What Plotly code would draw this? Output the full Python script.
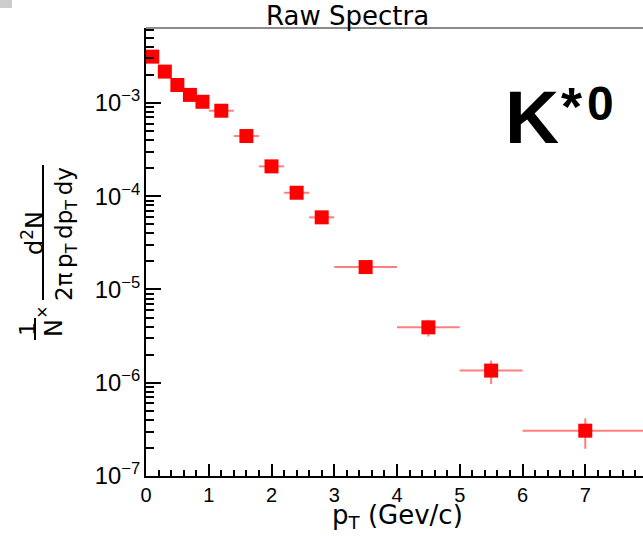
import plotly.graph_objects as go

# ---- data ----
pt = [0.1, 0.3, 0.5, 0.7, 0.9, 1.2, 1.6, 2.0, 2.4, 2.8, 3.5, 4.5, 5.5, 7.0]
pt_halfwidth = [0.1, 0.1, 0.1, 0.1, 0.1, 0.2, 0.2, 0.2, 0.2, 0.2, 0.5, 0.5, 0.5, 1.0]
yield_vals = [3.14e-3, 2.17e-3, 1.56e-3, 1.22e-3, 1.03e-3, 8.26e-4, 4.42e-4,
              2.09e-4, 1.09e-4, 5.94e-5, 1.74e-5, 3.93e-6, 1.35e-6, 3.06e-7]
yield_err = [5e-5, 4e-5, 3e-5, 3e-5, 3e-5, 2.5e-5, 1.5e-5,
             8e-6, 5e-6, 3e-6, 1.5e-6, 0.8e-6, 0.38e-6, 1.1e-7]

# ---- layout geometry ----
W, H = 643, 539
ML, MR, MT, MB = 146, 0, 28, 63
PW, PH = W - ML - MR, H - MT - MB


def px(xpix):
    return (xpix - ML) / PW


def py(ypix):
    return (H - MB - ypix) / PH


fig = go.Figure()
fig.add_trace(go.Scatter(
    x=pt, y=yield_vals, mode="markers",
    marker=dict(symbol="square", size=14, color="#ff0000", line=dict(width=0)),
    error_x=dict(type="data", array=pt_halfwidth, color="rgba(255,0,0,0.5)",
                 thickness=2, width=0),
    error_y=dict(type="data", array=yield_err, color="rgba(255,0,0,0.5)",
                 thickness=2, width=0),
    showlegend=False,
))

tickfont = dict(family="Liberation Sans", size=19, color="black")

fig.update_layout(
    width=W, height=H,
    margin=dict(l=ML, r=MR, t=MT, b=MB),
    paper_bgcolor="white", plot_bgcolor="white",
    xaxis=dict(
        range=[0, 7.92], showgrid=False, zeroline=False,
        showline=True, linecolor="black", linewidth=2,
        ticks="inside", ticklen=12, tickwidth=2, tickcolor="black",
        dtick=1, tick0=0, tickfont=dict(family="Liberation Sans", size=20, color="black"),
        minor=dict(ticks="inside", ticklen=6, tickwidth=2, tickcolor="black", dtick=0.2, showgrid=False),
    ),
    yaxis=dict(
        type="log", range=[-7, -2.196], showgrid=False, zeroline=False,
        showline=True, linecolor="black", linewidth=2,
        ticks="inside", ticklen=15, tickwidth=2, tickcolor="black",
        dtick=1, exponentformat="power", tickfont=tickfont,
        minor=dict(ticks="inside", ticklen=8, tickwidth=2, tickcolor="black", dtick="D1", showgrid=False),
    ),
)

shapes = [
    # gray top frame line
    dict(type="line", xref="paper", yref="paper", x0=0, x1=1, y0=1, y1=1,
         line=dict(color="#8c8c8c", width=2)),
    # main fraction bar of y title
    dict(type="line", xref="paper", yref="paper", x0=px(43), x1=px(43), y0=py(165), y1=py(300),
         line=dict(color="black", width=2)),
    # 1/N bar
    dict(type="line", xref="paper", yref="paper", x0=px(35), x1=px(35), y0=py(318), y1=py(340),
         line=dict(color="black", width=2)),
    # small gray corner
    dict(type="rect", xref="paper", yref="paper", x0=px(0), x1=px(12), y0=py(0), y1=py(8),
         fillcolor="rgba(170,170,170,0.6)", line=dict(width=0), layer="above"),
]
fig.update_layout(shapes=shapes)

thin = "\u2009"
annotations = [
    dict(text="Raw Spectra", x=px(347), y=py(16), xref="paper", yref="paper",
         showarrow=False, xanchor="center", yanchor="middle",
         font=dict(family="DejaVu Sans", size=26, color="black")),
    dict(text="<b>K</b>", x=px(503), y=py(117), xref="paper", yref="paper",
         showarrow=False, xanchor="left", yanchor="middle",
         font=dict(family="Liberation Sans", size=75, color="black")),
    dict(text="<b>*</b>", x=px(559), y=py(106), xref="paper", yref="paper",
         showarrow=False, xanchor="left", yanchor="middle",
         font=dict(family="Liberation Sans", size=54, color="black")),
    dict(text="<b>0</b>", x=px(585), y=py(104), xref="paper", yref="paper",
         showarrow=False, xanchor="left", yanchor="middle",
         font=dict(family="Liberation Sans", size=48, color="black")),
    dict(text="p<sub>T</sub> (Gev/c)", x=px(397), y=py(516), xref="paper", yref="paper",
         showarrow=False, xanchor="center", yanchor="middle",
         font=dict(family="DejaVu Sans", size=26, color="black")),
    # y title pieces
    dict(text="d<sup>2</sup>N", x=px(33), y=py(233), xref="paper", yref="paper",
         showarrow=False, textangle=-90, xanchor="center", yanchor="middle",
         font=dict(family="DejaVu Sans", size=24, color="black")),
    dict(text=f"2π{thin}p<sub>T</sub>{thin}dp<sub>T</sub>{thin}dy", x=px(66), y=py(234),
         xref="paper", yref="paper",
         showarrow=False, textangle=-90, xanchor="center", yanchor="middle",
         font=dict(family="DejaVu Sans", size=23, color="black")),
    dict(text="1", x=px(27), y=py(329), xref="paper", yref="paper",
         showarrow=False, textangle=-90, xanchor="center", yanchor="middle",
         font=dict(family="DejaVu Sans", size=22, color="black")),
    dict(text="N", x=px(54), y=py(328), xref="paper", yref="paper",
         showarrow=False, textangle=-90, xanchor="center", yanchor="middle",
         font=dict(family="DejaVu Sans", size=24, color="black")),
    dict(text="×", x=px(42), y=py(312), xref="paper", yref="paper",
         showarrow=False, textangle=-90, xanchor="center", yanchor="middle",
         font=dict(family="Liberation Sans", size=20, color="black")),
]
fig.update_layout(annotations=annotations)

fig.write_html("out.html")
